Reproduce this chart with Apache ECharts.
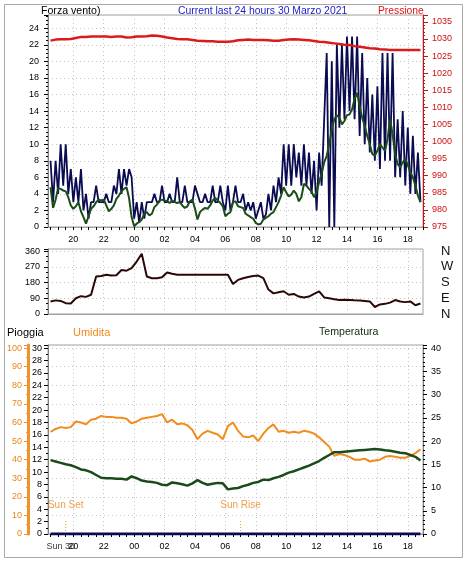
<!DOCTYPE html>
<html><head><meta charset="utf-8">
<script src="https://cdn.jsdelivr.net/npm/echarts@6/dist/echarts.min.js"></script>
<style>html,body{margin:0;padding:0;background:#fff}#c{width:467px;height:562px}</style>
</head><body><div id="c"></div>
<script>
// ---- time slots (10 min) from 29 Mar 18:20 to 30 Mar 19:00 ----
const startMin = 18 * 60 + 20;
const slotMinutes = 10;
const slotCount = 149;
const times = [];
for (let i = 0; i < slotCount; i++) {
  const m = (startMin + i * slotMinutes) % 1440;
  times.push(String(Math.floor(m / 60)).padStart(2, '0') + ':' + String(m % 60).padStart(2, '0'));
}
const dateLabel = 'Sun 30';
const dateLabelTime = '19:10';

// ---- wind (10 min samples from 18:30) ----
const windGust = [8,3,8,4,10,5,10,4,7,3,
  6,3,7,2,4,1,3,3,5,3,
  3,3,4,3,3,5,4,7,4,7,
  5,7,6,1,3,0.5,3,1,3,3,
  3,4,3,3,5,3,3,4,3,3,
  6,3,3,5,3,3,3,5,4,3,
  3,4,3,3,5,3,3,5,3,2,
  5,2,3,5,3,3,4,2,3,2,
  3,1,2,3,1,1.5,4,2,5,3,
  6,4,10,5,10,5,10,6,9,5,
  10,5,9,4,8,2,9,5,13,21,
  0,20,0,22,12,22,13,23,14,23,
  13,23,11,21,10,18,9,16,8,17,
  7,21,8,21,8,21,6,13,6,14,
  5,12,4,11,4,9,3];
const windAvg = [4.8,2.3,3.3,4.7,4.6,4.4,4.3,3.6,2.6,2.2,
  2.5,3.0,1.9,1.2,0.4,1.3,2.2,2.5,3.0,3.3,
  3.2,3.3,2.6,1.9,2.2,2.6,3.4,3.8,4.3,4.6,
  4.8,3.5,1.2,0.1,0.4,0.6,0.9,1.6,1.8,1.4,
  1.6,2.4,2.7,3.2,3.3,3.2,3.1,2.9,3.2,3.0,
  2.9,3.0,2.6,2.3,2.5,3.1,3.3,2.2,0.9,1.8,
  2.1,2.3,2.2,2.6,3.2,3.5,3.2,2.9,2.5,1.3,
  1.6,1.8,3.0,3.1,2.5,2.4,2.3,1.6,1.4,1.2,
  1.0,0.5,0.3,0.4,0.9,1.1,1.3,1.6,1.8,2.4,
  3.0,3.8,4.8,4.2,3.7,3.9,4.4,4.0,3.1,3.6,
  5.2,5.0,4.6,4.3,3.6,4.2,5.4,6.5,7.8,8.6,
  10,11.8,13,13.5,13.2,12.4,12.8,13.5,13.6,14.2,
  15.5,16.2,14.6,13.2,12.2,11.0,10.0,8.8,8.6,9.2,
  10.0,9.6,9.2,10.6,13.0,11.2,8.8,7.6,7.2,7.8,
  8.2,7.5,6.6,6.0,5.0,3.8,3.0];

// ---- 20 min samples from 18:30 ----
const pressure = [1029.5,1029.8,1029.9,1029.9,1030.0,1030.3,1030.6,1030.6,1030.7,1030.7,
  1030.7,1030.7,1030.6,1030.7,1030.7,1030.4,1030.5,1030.7,1030.7,1030.8,
  1031.0,1030.9,1030.7,1030.4,1030.2,1030.0,1029.9,1029.9,1029.7,1029.5,
  1029.4,1029.3,1029.3,1029.2,1029.2,1029.2,1029.3,1029.6,1029.7,1029.8,
  1029.7,1029.7,1029.7,1029.6,1029.5,1029.5,1029.7,1029.8,1029.9,1029.8,
  1029.7,1029.6,1029.4,1029.2,1029.1,1028.9,1028.7,1028.5,1028.3,1028.2,
  1027.9,1027.7,1027.5,1027.3,1027.2,1027.0,1026.9,1026.8,1026.8,1026.8,
  1026.8,1026.8,1026.8,1026.8];
const direction = [72,78,75,62,60,90,102,98,110,215,
  218,225,220,222,252,248,262,300,345,215,
  205,205,210,238,230,225,225,225,225,225,
  225,225,225,225,225,225,172,195,205,212,
  218,220,205,140,118,125,130,110,115,100,
  95,100,115,130,95,90,85,80,82,80,
  78,77,75,72,40,55,58,65,80,72,
  68,72,50,60];
const humidity = [55,56.5,57.5,57,57.5,60.5,60,59,61.5,62,
  63.5,63,63,62.5,62.5,62,59.5,60.5,62,62.5,
  63,63.5,64.5,60,61.5,59,59.5,58.5,56,51,
  54,55.5,54.5,53.5,51,58,60,55.5,52.5,52,
  53,50,54,57,59,55,55.5,54.5,55,54.5,
  55.5,55,54,52,49.5,47,42,43,42.5,41.5,
  40,40,40.5,39,39.5,40,41.5,42,41.5,41,
  41,42,43.5,45.5];
const temperature = [15.9,15.6,15.3,15.0,14.8,14.4,13.9,13.7,13.3,12.7,
  12.1,12.0,12.0,11.9,11.9,11.7,12.4,12.0,11.5,11.3,
  11.2,11.0,10.6,10.5,11.1,10.9,10.7,10.4,10.9,11.6,
  11.0,10.6,10.8,11.0,10.9,9.6,9.8,9.9,10.3,10.6,
  11.0,11.2,11.7,11.6,12.0,12.3,12.7,13.2,13.5,13.9,
  14.3,14.7,15.2,15.7,16.4,17.0,17.6,17.6,17.7,17.8,
  17.9,18.0,18.1,18.2,18.3,18.2,18.0,17.9,17.7,17.5,
  17.4,17.0,16.6,15.8];
const rain = [0,0,0,0,0,0,0,0,0,0,
  0,0,0,0,0,0,0,0,0,0,
  0,0,0,0,0,0,0,0,0,0,
  0,0,0,0,0,0,0,0,0,0,
  0,0,0,0,0,0,0,0,0,0,
  0,0,0,0,0,0,0,0,0,0,
  0,0,0,0,0,0,0,0,0,0,
  0,0,0,0];

// ---- sun events ----
const sunEvents = ['Sun Set', 'Sun Rise'];
const sunTimes = ['19:30', '07:00'];
const sunMarkHeight = 2.4;

// ---- axis labels ----
const compass = {0: 'N', 90: 'E', 180: 'S', 270: 'W', 360: 'N'};

function onSlots(values, firstTime, stepMinutes) {
  const first = times.indexOf(firstTime);
  const step = stepMinutes / slotMinutes;
  return values.map((v, k) => [first + k * step, v]);
}
const minOf = i => startMin + i * slotMinutes;
const isEvenHour = i => minOf(i) % 120 === 0;
const isHalfHour = i => minOf(i) % 30 === 0;
const dateSlot = times.indexOf(dateLabelTime);

const FONT = 'Liberation Sans';
const GRID_BORDER = '#a0a0a0';
const SPLIT = {show: true, lineStyle: {color: '#c4c4c4', type: [1, 3], width: 1}};
const plain = v => String(v);

function xAxisFor(gridIndex, labels) {
  return {
    type: 'category', gridIndex, data: times, boundaryGap: false,
    axisLine: {show: true, lineStyle: {color: GRID_BORDER}},
    axisTick: {show: labels, interval: i => isHalfHour(i), length: 3, lineStyle: {color: '#000'}},
    axisLabel: {
      show: labels, margin: 8, fontFamily: FONT, fontSize: 9, color: '#000',
      hideOverlap: false, showMinLabel: true, showMaxLabel: true,
      interval: i => isEvenHour(i),
      formatter: v => v.slice(0, 2)
    },
    splitLine: {show: true, interval: i => isEvenHour(i), lineStyle: {color: '#c4c4c4', type: [1, 3]}}
  };
}

function yAxisBase(o) {
  return Object.assign({
    type: 'value', position: 'left',
    axisLine: {show: true, lineStyle: {color: '#808080'}},
    axisTick: {show: true, length: 4, lineStyle: {color: '#000'}},
    minorTick: {show: true, splitNumber: 4, length: 2, lineStyle: {color: '#000'}},
    axisLabel: {fontFamily: FONT, fontSize: 9, color: '#000', showMaxLabel: false},
    splitLine: {show: false}
  }, o);
}

const sunSeries = [];
sunEvents.forEach((name, k) => {
  const slot = times.indexOf(sunTimes[k]);
  sunSeries.push({
    type: 'line', name, xAxisIndex: 2, yAxisIndex: 4, symbol: 'none', silent: true,
    lineStyle: {color: '#f09a30', width: 1, type: [1, 2]},
    data: [[slot, 0], [slot, sunMarkHeight]], z: 1
  });
  sunSeries.push({
    type: 'scatter', xAxisIndex: 2, yAxisIndex: 4, symbolSize: 0, silent: true,
    label: {show: true, position: 'top', distance: 9, formatter: name,
      fontFamily: FONT, fontSize: 10, color: '#e8861a'},
    data: [[slot, sunMarkHeight]]
  });
});
// date label under the time axis
sunSeries.push({
  type: 'scatter', xAxisIndex: 2, yAxisIndex: 4, symbolSize: 0, silent: true, clip: false,
  label: {show: true, position: 'bottom', distance: 8, formatter: dateLabel,
    fontFamily: FONT, fontSize: 9, color: '#000'},
  data: [[dateSlot, 0]]
});

const titleStyle = (color, size) => ({fontFamily: FONT, fontSize: size, fontWeight: 'normal', color});
const option = {
  animation: false,
  backgroundColor: '#fff',
  graphic: [{type: 'rect', silent: true, z: -10,
    shape: {x: 4.5, y: 4.5, width: 458, height: 553},
    style: {fill: 'none', stroke: '#a8a8a8', lineWidth: 1}}],
  title: [
    {text: 'Forza vento)', left: 41, top: 6, padding: 0, textStyle: titleStyle('#000', 10.6)},
    {text: 'Current last 24 hours 30 Marzo 2021', left: 178, top: 6, padding: 0, textStyle: titleStyle('#1a1acc', 10.4)},
    {text: 'Pressione', left: 378, top: 6, padding: 0, textStyle: titleStyle('#e01515', 10.3)},
    {text: 'Pioggia', left: 7, top: 327, padding: 0, textStyle: titleStyle('#000', 11)},
    {text: 'Umidita', left: 73, top: 327, padding: 0, textStyle: titleStyle('#f08a1a', 11)},
    {text: 'Temperatura', left: 319, top: 327, padding: 0, textStyle: titleStyle('#102a10', 10.6)}
  ],
  grid: [
    {left: 48, top: 15, width: 375, height: 212, show: true, borderColor: GRID_BORDER, borderWidth: 1},
    {left: 48, top: 249, width: 375, height: 65, show: true, borderColor: GRID_BORDER, borderWidth: 1},
    {left: 48, top: 345, width: 375, height: 189, show: true, borderColor: GRID_BORDER, borderWidth: 1}
  ],
  xAxis: [xAxisFor(0, true), xAxisFor(1, false), xAxisFor(2, true)],
  yAxis: [
    yAxisBase({gridIndex: 0, min: 0, max: 25.6, interval: 2,
      axisLabel: {fontFamily: FONT, fontSize: 9, color: '#000', margin: 9, showMaxLabel: false},
      splitLine: SPLIT}),
    yAxisBase({gridIndex: 0, position: 'right', min: 975, max: 1037, interval: 5,
      axisLine: {show: true, lineStyle: {color: '#cc1010'}},
      axisTick: {show: true, length: 5, lineStyle: {color: '#cc1010'}},
      minorTick: {show: true, splitNumber: 5, length: 2, lineStyle: {color: '#cc1010'}},
      axisLabel: {fontFamily: FONT, fontSize: 9, color: '#cc1010', margin: 9, showMaxLabel: false, formatter: plain}}),
    yAxisBase({gridIndex: 1, min: 0, max: 372, interval: 90,
      minorTick: {show: true, splitNumber: 3, length: 2, lineStyle: {color: '#000'}},
      axisLabel: {fontFamily: FONT, fontSize: 9, color: '#000', margin: 8, showMaxLabel: false},
      splitLine: SPLIT}),
    {type: 'value', gridIndex: 1, position: 'right', min: 0, max: 372, interval: 90,
      axisLine: {show: false}, axisTick: {show: false}, splitLine: {show: false},
      axisLabel: {fontFamily: FONT, fontSize: 13, color: '#111', margin: 18, showMaxLabel: false,
        formatter: v => compass[v] || ''}},
    yAxisBase({gridIndex: 2, min: 0, max: 30.5, interval: 2,
      minorTick: {show: true, splitNumber: 2, length: 2, lineStyle: {color: '#000'}},
      axisLabel: {fontFamily: FONT, fontSize: 9, color: '#000', margin: 6, showMaxLabel: false}}),
    yAxisBase({gridIndex: 2, position: 'left', min: 0, max: 101.67, interval: 10, offset: 20,
      axisLine: {show: true, lineStyle: {color: '#f0922a', width: 3}},
      axisTick: {show: true, length: 4, lineStyle: {color: '#f0922a'}},
      minorTick: {show: true, splitNumber: 2, length: 2, lineStyle: {color: '#f0922a'}},
      axisLabel: {fontFamily: FONT, fontSize: 9, color: '#e8861a', margin: 6, showMaxLabel: false},
      splitLine: SPLIT}),
    yAxisBase({gridIndex: 2, position: 'right', min: 0, max: 40.67, interval: 5,
      minorTick: {show: true, splitNumber: 5, length: 2, lineStyle: {color: '#000'}},
      axisLabel: {fontFamily: FONT, fontSize: 9, color: '#000', margin: 8, showMaxLabel: false}})
  ],
  series: [
    {type: 'line', name: 'Raffica', xAxisIndex: 0, yAxisIndex: 0, symbol: 'none',
      lineStyle: {color: '#0b0b52', width: 1.8}, data: onSlots(windGust, '18:30', 10), z: 2},
    {type: 'line', name: 'Vento medio', xAxisIndex: 0, yAxisIndex: 0, symbol: 'none',
      lineStyle: {color: '#1b4d1b', width: 2}, data: onSlots(windAvg, '18:30', 10), z: 3},
    {type: 'line', name: 'Pressione', xAxisIndex: 0, yAxisIndex: 1, symbol: 'none',
      lineStyle: {color: '#dd1a1a', width: 2.5}, data: onSlots(pressure, '18:30', 20), z: 4},
    {type: 'line', name: 'Direzione', xAxisIndex: 1, yAxisIndex: 2, symbol: 'none',
      lineStyle: {color: '#2b0808', width: 2}, data: onSlots(direction, '18:30', 20)},
    {type: 'line', name: 'Umidita', xAxisIndex: 2, yAxisIndex: 5, symbol: 'none',
      lineStyle: {color: '#f28c1c', width: 2}, data: onSlots(humidity, '18:30', 20), z: 3},
    {type: 'line', name: 'Temperatura', xAxisIndex: 2, yAxisIndex: 6, symbol: 'none',
      lineStyle: {color: '#1b4a1b', width: 2.5}, data: onSlots(temperature, '18:30', 20), z: 4},
    {type: 'line', name: 'Pioggia', xAxisIndex: 2, yAxisIndex: 4, symbol: 'none',
      lineStyle: {color: '#0a0a50', width: 3}, data: onSlots(rain, '18:30', 20), z: 5}
  ].concat(sunSeries)
};

const chart = echarts.init(document.getElementById('c'), null, {renderer: 'canvas'});
chart.setOption(option);
</script>
</body></html>
